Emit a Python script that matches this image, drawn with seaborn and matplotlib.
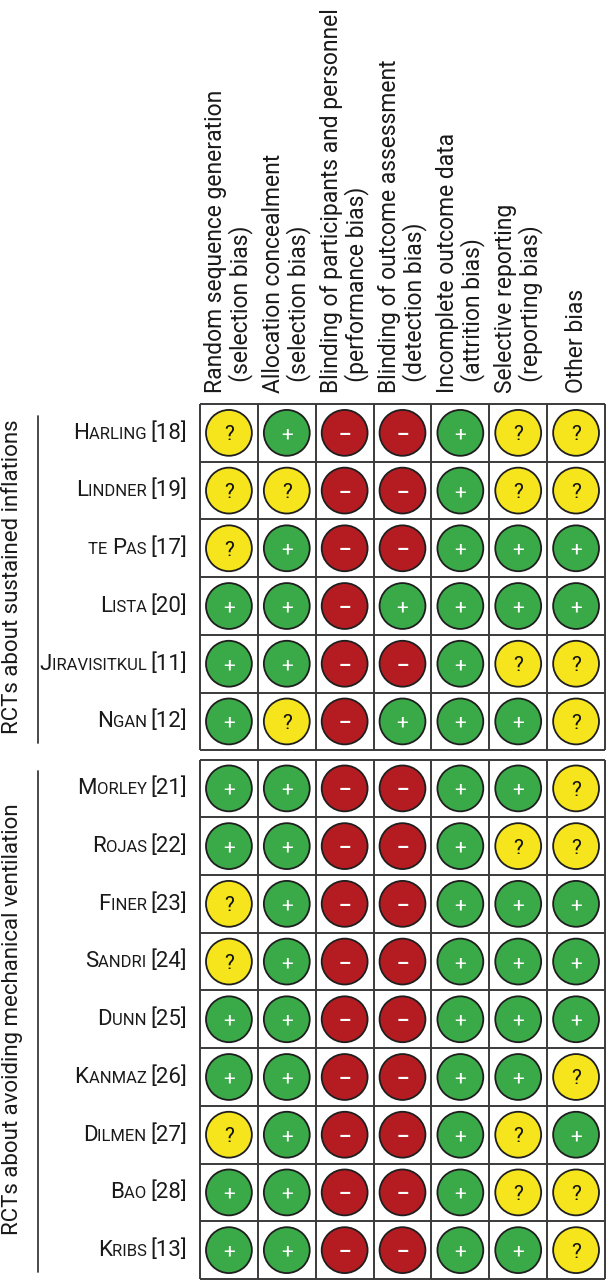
import numpy as np
import pandas as pd
import matplotlib
matplotlib.use("Agg")
import matplotlib.pyplot as plt
import matplotlib.transforms as mtransforms
from matplotlib.offsetbox import TextArea, HPacker, AnnotationBbox
import seaborn as sns

# %% data
domains = [
    "Random sequence generation\n  (selection bias)",
    "Allocation concealment\n  (selection bias)",
    "Blinding of participants and personnel\n  (performance bias)",
    "Blinding of outcome assessment\n  (detection bias)",
    "Incomplete outcome data\n  (attrition bias)",
    "Selective reporting\n  (reporting bias)",
    "Other bias",
]

groups = ["RCTs about sustained inflations",
          "RCTs about avoiding mechanical ventilation"]

studies_si = ["Harling [18]", "Lindner [19]", "te Pas [17]", "Lista [20]",
              "Jiravisitkul [11]", "Ngan [12]"]
studies_mv = ["Morley [21]", "Rojas [22]", "Finer [23]", "Sandri [24]",
              "Dunn [25]", "Kanmaz [26]", "Dilmen [27]", "Bao [28]", "Kribs [13]"]

# + low risk, ? unclear, - high risk
judgements_si = [
    "?+--+??",
    "??--+??",
    "?+--+++",
    "++-++++",
    "++--+??",
    "+?-+++?",
]
judgements_mv = [
    "++--++?",
    "++--+??",
    "?+--+++",
    "?+--+++",
    "++--+++",
    "++--++?",
    "?+--+?+",
    "++--+??",
    "++--++?",
]

# %% long table
gap = 0.16
rows = []
for g, (names, marks) in enumerate([(studies_si, judgements_si), (studies_mv, judgements_mv)]):
    for name, line in zip(names, marks):
        rows.append((g, name, line))

records = []
for i, (g, name, line) in enumerate(rows):
    for j, m in enumerate(line):
        records.append({"row": i, "group": g, "ypos": i + gap * g, "col": j,
                        "study": name, "judgement": m})
df = pd.DataFrame(records)

palette = {"+": "#3aa948", "?": "#f6e51c", "-": "#b51c22"}
symbol_color = {"+": "white", "?": "#111111", "-": "white"}
symbol_text = {"+": "+", "?": "?", "-": "\u2013"}
symbol_size = {"+": 15, "?": 15, "-": 14}

# %% plot
sns.set_theme(style="white")
plt.rcParams["font.family"] = ["Roboto", "DejaVu Sans"]

W, H = 606, 1280
fig = plt.figure(figsize=(W / 100, H / 100), dpi=100)
n_rows = len(rows)
grid_h = 875
ax = fig.add_axes([200 / W, 1 / H, 405 / W, grid_h / H])
ax.set_xlim(-0.5, len(domains) - 0.5)
ax.set_ylim(n_rows - 0.5 + gap, -0.5)
ax.axis("off")

sns.scatterplot(data=df, x="col", y="ypos", hue="judgement", palette=palette,
                s=1090, edgecolor="#1e1e1e", linewidth=1.3, legend=False,
                ax=ax, zorder=3, clip_on=False)

for _, r in df.iterrows():
    m = r["judgement"]
    ax.text(r["col"], r["ypos"], symbol_text[m],
            color=symbol_color[m], ha="center", va="center_baseline",
            fontsize=symbol_size[m], zorder=4,
            fontweight="bold" if m == "-" else "normal")

# grid lines per group
line_kw = dict(color="#3a3a3a", linewidth=1.4, zorder=2, clip_on=False)
for g in range(2):
    sub = df[df["group"] == g]
    top = sub["ypos"].min() - 0.5
    bot = sub["ypos"].max() + 0.5
    ax.vlines(np.arange(len(domains) + 1) - 0.5, top, bot, **line_kw)
    ys = np.sort(sub["ypos"].unique())
    ax.hlines(np.concatenate([ys - 0.5, [bot]]), -0.5, len(domains) - 0.5, **line_kw)

# column headers
for j, d in enumerate(domains):
    ax.annotate(d, xy=(j, -0.5), xytext=(0, 8), textcoords="offset points",
                rotation=90, ha="center", va="bottom", multialignment="left",
                fontsize=16.5, linespacing=1.05, color="#1a1a1a", annotation_clip=False)


# row labels in small caps
def small_caps(label, big=16, small=12):
    parts = []
    cur, cur_small = "", None
    for ch in label:
        is_small = ch.isalpha() and ch.islower()
        if cur_small is None or is_small == cur_small or ch == " ":
            cur += ch.upper() if is_small else ch
            if cur_small is None and ch != " ":
                cur_small = is_small
        else:
            parts.append((cur, cur_small))
            cur, cur_small = (ch.upper() if is_small else ch), is_small
    parts.append((cur, cur_small))
    boxes = [TextArea(t, textprops=dict(fontsize=small if s else big, color="#1a1a1a"))
             for t, s in parts]
    return HPacker(children=boxes, align="baseline", pad=0, sep=0)


for i, (g, name, line) in enumerate(rows):
    y = i + gap * g
    ab = AnnotationBbox(small_caps(name), (-0.5, y), xycoords="data",
                        xybox=(-9, 0), boxcoords="offset points",
                        box_alignment=(1, 0.5), frameon=False, annotation_clip=False)
    ax.add_artist(ab)

# group labels and brackets
trans = mtransforms.blended_transform_factory(fig.transFigure, ax.transData)
for g, label in enumerate(groups):
    sub = df[df["group"] == g]
    top = sub["ypos"].min() - 0.5
    bot = sub["ypos"].max() + 0.5
    ax.plot([38 / W, 38 / W], [top + 0.2, bot - 0.12], transform=trans,
            color="#3a3a3a", linewidth=1.3, clip_on=False)
    ax.text(13 / W, (top + bot) / 2, label, transform=trans, rotation=90,
            ha="center", va="center", fontsize=16, color="#1a1a1a")

fig.savefig("out.png", dpi=100)
